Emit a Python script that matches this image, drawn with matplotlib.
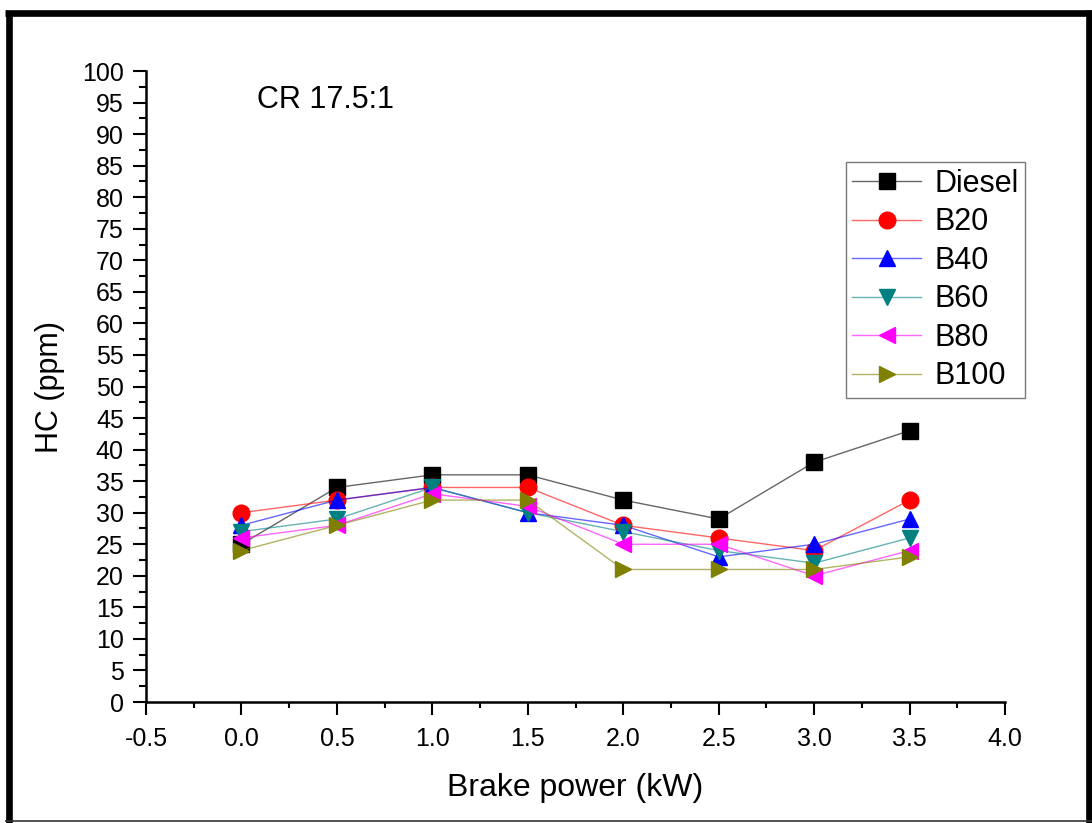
import matplotlib
matplotlib.use("Agg")
import matplotlib.pyplot as plt
from matplotlib.ticker import MultipleLocator, FormatStrFormatter
from matplotlib.lines import Line2D
from matplotlib.colors import to_rgba

plt.rcParams['font.family'] = ['Liberation Sans', 'DejaVu Sans']

power = [0.0, 0.5, 1.0, 1.5, 2.0, 2.5, 3.0, 3.5]
diesel = [25, 34, 36, 36, 32, 29, 38, 43]
b20 = [30, 32, 34, 34, 28, 26, 24, 32]
b40 = [28, 32, 34, 30, 28, 23, 25, 29]
b60 = [27, 29, 34, 30, 27, 24, 22, 26]
b80 = [26, 28, 33, 31, 25, 25, 20, 24]
b100 = [24, 28, 32, 32, 21, 21, 21, 23]

series = [
    ("Diesel", diesel, "black", "s"),
    ("B20", b20, "red", "o"),
    ("B40", b40, "blue", "^"),
    ("B60", b60, "#008080", "v"),
    ("B80", b80, "magenta", "<"),
    ("B100", b100, "#808000", ">"),
]

W, H = 1092, 823
fig = plt.figure(figsize=(W / 100, H / 100), dpi=100)
ax = fig.add_axes([146 / W, 1 - 702 / H, (1005 - 146) / W, (702 - 71) / H])

for name, vals, col, mk in series:
    ax.plot(power, vals, color=to_rgba(col, 0.6), marker=mk, markersize=12,
            linewidth=1.0, markerfacecolor=col, markeredgecolor=col,
            label=name, clip_on=False)

ax.set_xlim(-0.5, 4.0)
ax.set_ylim(0, 100)
ax.xaxis.set_major_locator(MultipleLocator(0.5))
ax.xaxis.set_minor_locator(MultipleLocator(0.25))
ax.xaxis.set_major_formatter(FormatStrFormatter('%.1f'))
ax.yaxis.set_major_locator(MultipleLocator(5))
ax.yaxis.set_minor_locator(MultipleLocator(2.5))

for s in ['top', 'right']:
    ax.spines[s].set_visible(False)
for s in ['left', 'bottom']:
    ax.spines[s].set_linewidth(1.8)

ax.tick_params(axis='both', which='major', direction='out', width=1.5, labelsize=18)
ax.tick_params(axis='y', which='major', length=9.5, pad=6.5)
ax.tick_params(axis='x', which='major', length=9, pad=9)
ax.tick_params(axis='x', which='minor', direction='out', length=4.5, width=1.5)
ax.tick_params(axis='y', which='minor', direction='out', length=5, width=1.5)

ax.set_xlabel("Brake power (kW)", fontsize=23, labelpad=16)
ax.set_ylabel("HC (ppm)", fontsize=22, labelpad=12)

ax.text(257 / W, 1 - 100 / H, "CR 17.5:1", transform=fig.transFigure, fontsize=22,
        ha='left', va='center')

leg = ax.legend(loc='upper right', bbox_to_anchor=(1025 / W, 1 - 162 / H),
                bbox_transform=fig.transFigure, borderaxespad=0, fontsize=22,
                handlelength=2.25, handletextpad=0.42, labelspacing=0.28,
                fancybox=False, frameon=True, borderpad=0.22)
leg.get_frame().set_edgecolor('#555555')
leg.get_frame().set_linewidth(1.0)

# figure border
def fx(x):
    return x / W

def fy(y):
    return 1 - y / H

lw = 4.8
fig.add_artist(Line2D([fx(8.5), fx(8.5)], [fy(13), fy(823)], color='black', linewidth=lw,
                      transform=fig.transFigure, solid_capstyle='butt'))
fig.add_artist(Line2D([fx(5), fx(1092)], [fy(13), fy(13)], color='black', linewidth=lw,
                      transform=fig.transFigure, solid_capstyle='butt'))
fig.add_artist(Line2D([fx(1089), fx(1089)], [fy(10), fy(823)], color='black', linewidth=lw,
                      transform=fig.transFigure, solid_capstyle='butt'))
fig.add_artist(Line2D([fx(5), fx(1092)], [fy(821), fy(821)], color='#333333', linewidth=1.2,
                      transform=fig.transFigure, solid_capstyle='butt'))

fig.savefig("out.png", dpi=100)
